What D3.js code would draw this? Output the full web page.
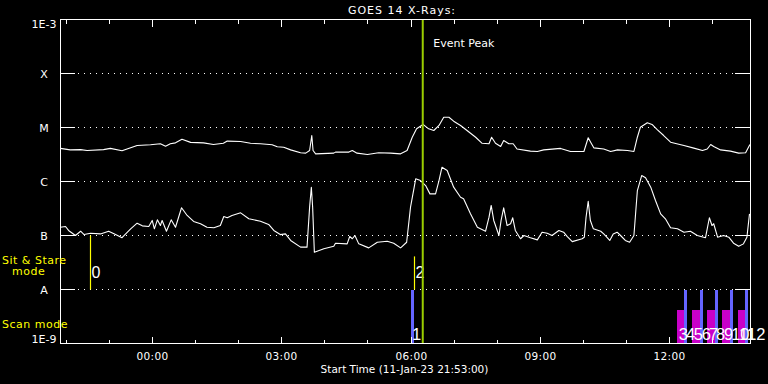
<!DOCTYPE html>
<html>
<head>
<meta charset="utf-8">
<script src="https://cdn.jsdelivr.net/npm/d3@7"></script>
<style>
  html, body { margin: 0; padding: 0; background: #000; }
  svg { display: block; }
  text { font-family: "DejaVu Sans", sans-serif; fill: #fff; }
</style>
</head>
<body>
<svg id="chart" width="768" height="384"></svg>
<script>
// ---------------- DATA ----------------
const chartTitle = "GOES 14 X-Rays:";
const startTime = "2023-01-11T21:53:00Z";
const endTime = "2023-01-12T13:53:00Z";
const dayZero = "2023-01-12T00:00:00Z";
const xAxisTitle = "Start Time (11-Jan-23 21:53:00)";

const yTickValues = [1e-9, 1e-8, 1e-7, 1e-6, 1e-5, 1e-4, 1e-3];
const yTickLabels = ["1E-9", "A", "B", "C", "M", "X", "1E-3"];

// long channel (upper curve): hours relative to 12-Jan 00:00 UT, flux W/m^2
const longHours = [-2.12,-1.89,-1.65,-1.50,-1.12,-0.96,-0.69,-0.34,-0.03,0.20,0.32,0.43,0.55,0.70,0.90,1.20,1.43,1.66,1.75,2.06,2.29,2.52,2.79,2.91,3.06,3.22,3.45,3.57,3.66,3.71,3.74,3.80,4.22,4.26,4.57,4.65,4.76,5.00,5.26,5.54,5.77,5.92,6.04,6.14,6.29,6.42,6.54,6.66,6.77,6.89,7.00,7.16,7.31,7.51,7.66,7.82,7.88,7.97,8.09,8.16,8.28,8.38,8.47,8.78,8.94,9.09,9.48,9.71,10.02,10.12,10.19,10.25,10.48,10.64,10.80,11.03,11.18,11.26,11.33,11.49,11.60,11.72,11.87,12.03,12.34,12.57,12.77,12.88,12.96,13.03,13.19,13.42,13.61,13.77,13.87];
const longFlux = [4.1e-6,3.85e-6,3.9e-6,3.75e-6,3.9e-6,4.1e-6,3.7e-6,4.65e-6,4.8e-6,5.0e-6,4.5e-6,5.0e-6,5.2e-6,6.05e-6,5.3e-6,5.2e-6,4.85e-6,5.1e-6,5.6e-6,5.5e-6,5.1e-6,5.0e-6,4.8e-6,4.4e-6,4.3e-6,3.85e-6,3.4e-6,3.35e-6,3.75e-6,7.1e-6,3.75e-6,3.25e-6,3.35e-6,3.5e-6,3.5e-6,3.75e-6,3.35e-6,3.16e-6,3.4e-6,3.35e-6,3.25e-6,3.75e-6,6.6e-6,9.45e-6,1.14e-5,9.45e-6,8.8e-6,1.09e-5,1.55e-5,1.55e-5,1.31e-5,1.09e-5,8.8e-6,6.6e-6,5.1e-6,5.0e-6,6.6e-6,5.1e-6,4.45e-6,5.75e-6,5.0e-6,5.0e-6,4.0e-6,3.65e-6,3.6e-6,3.85e-6,4.1e-6,3.6e-6,3.6e-6,6.45e-6,5.1e-6,4.2e-6,4.0e-6,3.6e-6,3.85e-6,3.75e-6,3.6e-6,6.6e-6,1.01e-5,1.22e-5,1.14e-5,9.1e-6,7.1e-6,5.35e-6,4.65e-6,4.15e-6,3.75e-6,4.0e-6,4.85e-6,4.45e-6,3.85e-6,3.65e-6,3.35e-6,3.4e-6,4.85e-6];

// short channel (lower curve)
const shortHours = [-2.12,-2.00,-1.93,-1.77,-1.65,-1.57,-1.42,-1.19,-1.00,-0.84,-0.69,-0.49,-0.34,-0.22,-0.07,0.01,0.06,0.13,0.20,0.24,0.34,0.45,0.55,0.69,0.82,0.97,1.13,1.28,1.44,1.59,1.67,1.75,1.86,2.06,2.25,2.52,2.71,2.83,2.98,3.10,3.22,3.45,3.60,3.66,3.70,3.73,3.77,3.99,4.22,4.26,4.53,4.59,4.65,4.71,4.80,5.03,5.23,5.46,5.61,5.77,5.91,6.00,6.12,6.23,6.35,6.45,6.58,6.66,6.73,6.85,7.00,7.16,7.23,7.39,7.55,7.74,7.82,7.87,7.93,8.05,8.10,8.16,8.24,8.32,8.37,8.43,8.55,8.63,8.78,8.94,9.05,9.17,9.28,9.44,9.55,9.63,9.75,9.98,10.03,10.07,10.12,10.17,10.24,10.41,10.48,10.62,10.70,10.79,10.87,10.98,11.08,11.18,11.26,11.36,11.45,11.57,11.68,11.80,11.91,12.03,12.19,12.34,12.49,12.65,12.84,12.93,12.99,13.03,13.12,13.26,13.38,13.49,13.61,13.72,13.80,13.86];
const shortFlux = [1.42e-7,1.47e-7,1.24e-7,1.0e-7,1.2e-7,1.04e-7,1.1e-7,1.07e-7,1.2e-7,1.04e-7,9.1e-8,1.33e-7,1.69e-7,1.51e-7,1.47e-7,1.9e-7,1.33e-7,1.95e-7,1.53e-7,1.9e-7,1.2e-7,1.95e-7,1.42e-7,3.26e-7,2.35e-7,1.82e-7,1.65e-7,1.42e-7,1.39e-7,1.53e-7,2.25e-7,2.13e-7,2.35e-7,2.63e-7,2.04e-7,1.84e-7,1.6e-7,1.24e-7,1.04e-7,1.07e-7,8.1e-8,6.1e-8,6.1e-8,3.35e-7,7.85e-7,3.35e-7,4.9e-8,5.7e-8,6.3e-8,7.2e-8,7.0e-8,9.6e-8,8.7e-8,1.0e-7,7.0e-8,5.9e-8,7.5e-8,7.8e-8,7.2e-8,5.9e-8,7.5e-8,3.35e-7,1.12e-6,1.04e-6,8.4e-7,5.9e-7,5.9e-7,1.04e-6,1.84e-6,1.6e-6,7.85e-7,5.1e-7,4.8e-7,2.52e-7,1.42e-7,1.2e-7,2.18e-7,3.6e-7,1.9e-7,1.0e-7,1.9e-7,3.26e-7,1.53e-7,1.65e-7,2.13e-7,1.24e-7,8.7e-8,1.0e-7,9.1e-8,8.3e-8,1.15e-7,1.1e-7,1.0e-7,1.24e-7,1.15e-7,9.6e-8,7.7e-8,8.7e-8,9.3e-8,2.18e-7,4.3e-7,1.9e-7,1.33e-7,1.2e-7,1.07e-7,8.1e-8,1.07e-7,1.15e-7,1.0e-7,8.1e-8,7.5e-8,1.0e-7,6.8e-7,1.29e-6,1.17e-6,7.85e-7,4.45e-7,2.52e-7,2.04e-7,1.39e-7,1.33e-7,1.15e-7,1.2e-7,1.0e-7,9.1e-8,2.13e-7,1.53e-7,1.65e-7,9.3e-8,1.0e-7,9.3e-8,7.2e-8,6.3e-8,7.0e-8,9.3e-8,2.52e-7];

// event peak
const eventPeakTime = "2023-01-12T06:17:00Z";
const eventPeakLabel = "Event Peak";

// sit & stare observations
const stareIds = [0, 2];
const stareTimes = ["2023-01-11T22:34:00Z", "2023-01-12T06:05:00Z"];
const stareTops = [1e-7, 4.1e-8];

// scan mode observations
const scanIds = [1, 3, 4, 5, 6, 7, 8, 9, 10, 11, 12];
const scanStarts = ["06:00","12:11","12:21","12:32","12:43","12:53","13:03","13:14","13:24","13:35","13:46"];
const scanEnds   = ["06:05","12:21","12:25","12:43","12:47","13:03","13:07","13:24","13:29","13:46","13:50"];
const scanTops   = [1e-8, 4.1e-9, 1e-8, 4.1e-9, 1e-8, 4.1e-9, 1e-8, 4.1e-9, 1e-8, 4.1e-9, 1e-8];
const scanKinds  = ["b","m","b","m","b","m","b","m","b","m","b"];

// ---------------- DRAW ----------------
const svg = d3.select("#chart");
const L = 60.5, R = 750.5, T = 19.5, B = 343.5;
const base = new Date(dayZero).getTime();
const hToDate = h => new Date(base + h * 3600e3);
const clock = s => new Date("2023-01-12T" + s + ":00Z");

const x = d3.scaleUtc().domain([new Date(startTime), new Date(endTime)]).range([L, R]);
const y = d3.scaleLog().domain([1e-9, 1e-3]).range([B, T]);

svg.append("rect").attr("width", 768).attr("height", 384).attr("fill", "#000");

// dotted grid + solid ticks
const inner = yTickValues.slice(1, -1);
const grid = svg.append("g").attr("shape-rendering", "crispEdges");
inner.forEach(v => {
  grid.append("line").attr("x1", 78).attr("x2", 734).attr("y1", y(v)).attr("y2", y(v))
    .attr("stroke", "#fff").attr("stroke-width", 1).attr("stroke-dasharray", "1,5");
  grid.append("line").attr("x1", L).attr("x2", 75).attr("y1", y(v)).attr("y2", y(v)).attr("stroke", "#fff");
  grid.append("line").attr("x1", 735).attr("x2", R).attr("y1", y(v)).attr("y2", y(v)).attr("stroke", "#fff");
});

// scan bars
const scanColor = { b: "#6464ff", m: "#c800c8" };
const bars = svg.append("g").attr("shape-rendering", "crispEdges");
scanIds.forEach((id, i) => {
  const x0 = Math.round(x(clock(scanStarts[i]))), x1 = Math.round(x(clock(scanEnds[i])));
  bars.append("rect").attr("x", x0).attr("width", Math.max(3, x1 - x0))
    .attr("y", y(scanTops[i])).attr("height", B - y(scanTops[i]))
    .attr("fill", scanColor[scanKinds[i]]);
});

// sit & stare lines
stareIds.forEach((id, i) => {
  const xx = Math.round(x(new Date(stareTimes[i]))) + 0.5;
  svg.append("line").attr("x1", xx).attr("x2", xx).attr("y1", y(stareTops[i])).attr("y2", y(1e-8))
    .attr("stroke", "#ffff00").attr("stroke-width", 1.2);
  svg.append("text").attr("x", xx + 1).attr("y", 278).attr("font-size", 16)
    .style("font-family", "'Liberation Sans', sans-serif").text(id);
});

// scan labels
scanIds.forEach((id, i) => {
  const x0 = x(clock(scanStarts[i]));
  svg.append("text").attr("x", x0 + 1.5).attr("y", 340).attr("font-size", 16.5)
    .style("font-family", "'Liberation Sans', sans-serif").text(id);
});

// curves
const line = d3.line().x(d => x(d[0])).y(d => y(d[1]));
const longData = longHours.map((h, i) => [hToDate(h), longFlux[i]]);
const shortData = shortHours.map((h, i) => [hToDate(h), shortFlux[i]]);
[longData, shortData].forEach(data => {
  svg.append("path").datum(data).attr("d", line).attr("fill", "none")
    .attr("stroke", "#fff").attr("stroke-width", 1.1).attr("stroke-linejoin", "round");
});

// event peak
const ex = x(new Date(eventPeakTime));
svg.append("line").attr("x1", ex).attr("x2", ex).attr("y1", T).attr("y2", B)
  .attr("stroke", "#9acd00").attr("stroke-width", 2);
svg.append("text").attr("x", ex + 10.5).attr("y", 47).attr("font-size", 11).text(eventPeakLabel);

// frame
const axes = svg.append("g").attr("shape-rendering", "crispEdges");
axes.append("rect").attr("x", L).attr("y", T).attr("width", R - L).attr("height", B - T)
  .attr("fill", "none").attr("stroke", "#fff");

// x ticks top & bottom
const hours = d3.utcHour.range(new Date(startTime), new Date(endTime));
hours.forEach(d => {
  const major = d.getUTCHours() % 3 === 0;
  const len = major ? 7 : 4;
  const xx = Math.round(x(d)) + 0.5;
  axes.append("line").attr("x1", xx).attr("x2", xx).attr("y1", T).attr("y2", T + len).attr("stroke", "#fff");
  axes.append("line").attr("x1", xx).attr("x2", xx).attr("y1", B).attr("y2", B - len).attr("stroke", "#fff");
  if (major) {
    svg.append("text").attr("x", xx).attr("y", 359.5).attr("text-anchor", "middle")
      .attr("font-size", 10.5).attr("letter-spacing", 0.3).text(d3.utcFormat("%H:%M")(d));
  }
});

// y labels
yTickValues.forEach((v, i) => {
  let yy = y(v) + 4;
  if (i === yTickValues.length - 1) yy = y(v) + 8;
  if (i === 0) yy = y(v) - 0.5;
  svg.append("text").attr("x", 44).attr("y", yy).attr("text-anchor", "middle")
    .attr("font-size", 11).text(yTickLabels[i]);
});

// titles
svg.append("text").attr("x", 402).attr("y", 13.5).attr("text-anchor", "middle")
  .attr("font-size", 11).attr("letter-spacing", 1).text(chartTitle);
svg.append("text").attr("x", 404.5).attr("y", 372.5).attr("text-anchor", "middle")
  .attr("font-size", 10.5).text(xAxisTitle);

// mode labels
svg.append("text").attr("x", 2).attr("y", 263.5).attr("font-size", 11).attr("letter-spacing", 0.5)
  .style("fill", "#ffff00").text("Sit & Stare");
svg.append("text").attr("x", 12).attr("y", 275).attr("font-size", 11).attr("letter-spacing", 0.5)
  .style("fill", "#ffff00").text("mode");
svg.append("text").attr("x", 2).attr("y", 328).attr("font-size", 11).attr("letter-spacing", 0.5)
  .style("fill", "#ffff00").text("Scan mode");
</script>
</body>
</html>
